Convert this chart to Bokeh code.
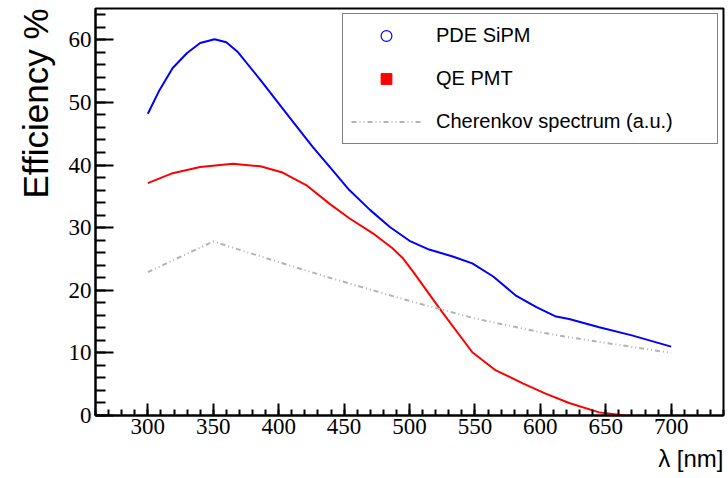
from bokeh.plotting import figure
from bokeh.models import (Range1d, SingleIntervalTicker, Legend, LegendItem, Title)
from bokeh.embed import file_html
from bokeh.resources import INLINE

# Data
sipm_wl = [300, 309, 319, 330, 340, 351, 360, 369, 386, 408, 426, 439, 454, 470, 485, 500,
           515, 533, 548, 564, 581, 597, 612, 622, 645, 670, 700]
sipm_pde = [48.2, 52.0, 55.5, 57.9, 59.5, 60.1, 59.6, 58.0, 53.6, 47.7, 42.9, 39.7, 36.0, 32.8, 30.1, 27.9,
            26.5, 25.4, 24.3, 22.2, 19.2, 17.3, 15.8, 15.4, 14.1, 12.8, 11.0]

pmt_wl = [300, 319, 340, 365, 386, 403, 421, 439, 454, 472, 487, 495, 503, 525, 548, 566, 587,
          604, 622, 645, 665]
pmt_qe = [37.1, 38.7, 39.7, 40.2, 39.8, 38.8, 36.8, 33.8, 31.5, 29.1, 26.7, 25.1, 22.9, 16.5, 10.1, 7.2, 5.1,
          3.5, 2.0, 0.5, 0.0]

cher_wl = [300, 350, 400, 439, 500, 550, 600, 622, 650, 700]
cher_val = [22.9, 27.8, 24.5, 22.0, 18.3, 15.5, 13.3, 12.5, 11.6, 10.0]

labels = ["PDE SiPM", "QE PMT", "Cherenkov spectrum (a.u.)"]
x_title = "\u03bb [nm]"
y_title = "Efficiency %"

SANS = "Liberation Sans"
SERIF = "Liberation Serif"
NAN = float("nan")

p = figure(width=728, height=478, output_backend="svg", toolbar_location=None,
           x_range=Range1d(260, 740), y_range=Range1d(0, 65),
           min_border_left=95, min_border_right=5, min_border_top=8, min_border_bottom=63)
p.background_fill_color = "white"
p.border_fill_color = "white"
p.outline_line_color = "black"
p.outline_line_width = 2
p.xgrid.visible = False
p.ygrid.visible = False

p.xaxis.ticker = SingleIntervalTicker(interval=50, num_minor_ticks=5)
p.yaxis.ticker = SingleIntervalTicker(interval=10, num_minor_ticks=5)
for ax in (p.xaxis, p.yaxis):
    ax.axis_line_width = 2
    ax.axis_line_color = "black"
    ax.major_tick_out = 0
    ax.minor_tick_out = 0
    ax.major_tick_line_width = 2
    ax.minor_tick_line_width = 2
    ax.major_label_text_font = SERIF
    ax.major_label_text_font_size = "23px"
    ax.major_label_text_color = "black"
p.xaxis.major_tick_in = 12
p.xaxis.minor_tick_in = 6
p.yaxis.major_tick_in = 18
p.yaxis.minor_tick_in = 10
p.xaxis.major_label_standoff = 3
p.yaxis.major_label_standoff = 4

r_sipm = p.line(sipm_wl, sipm_pde, line_color="#0000ff", line_width=2)
r_pmt = p.line(pmt_wl, pmt_qe, line_color="#ff0000", line_width=2)
r_cher = p.line(cher_wl, cher_val, line_color="#b4b4b4", line_width=2, line_dash="5 3 1 3 1 3")

# legend-only marker renderers (not drawn in the plot)
m_sipm = p.scatter([NAN], [NAN], marker="circle", size=11, line_color="#0000ff", fill_color=None, line_width=1.2)
m_pmt = p.scatter([NAN], [NAN], marker="square", size=11, line_color="#ff0000", fill_color="#ff0000")

legend = Legend(items=[LegendItem(label=labels[0], renderers=[m_sipm]),
                       LegendItem(label=labels[1], renderers=[m_pmt]),
                       LegendItem(label=labels[2], renderers=[r_cher])],
                location="top_right", margin=5, padding=8, spacing=16,
                glyph_width=70, glyph_height=27, label_height=27, label_width=273,
                label_standoff=15,
                label_text_font=SANS, label_text_font_size="20px", label_text_color="black",
                border_line_color="black", border_line_width=1.5,
                background_fill_color="white", background_fill_alpha=1.0)
p.add_layout(legend, "center")

p.add_layout(Title(text=y_title, align="right", text_font=SANS, text_font_size="35px",
                   text_font_style="normal", text_color="black", standoff=22), "left")
p.add_layout(Title(text=x_title, align="right", text_font=SANS, text_font_size="24px",
                   text_font_style="normal", text_color="black", standoff=12), "below")

open("out.html", "w").write(file_html(p, INLINE))
